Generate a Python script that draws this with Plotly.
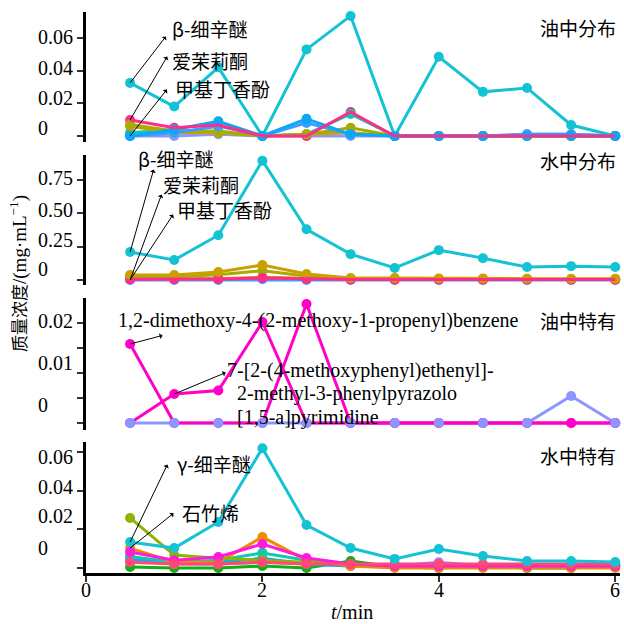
import plotly.graph_objects as go

# ---------------- data ----------------
t = [0.5, 1.0, 1.5, 2.0, 2.5, 3.0, 3.5, 4.0, 4.5, 5.0, 5.5, 6.0]

# panel 1: 油中分布
p1_periwinkle = [0, 0, 0.001, 0, 0, 0, 0, 0, 0, 0.001, 0.001, 0]
p1_teal = [0.002, 0.004, 0.002, 0, 0.001, 0.0135, 0, 0, 0, 0, 0, 0]
p1_gold = [0.006, 0.002, 0.002, 0, 0.001, 0.002, 0, 0, 0, 0, 0, 0]
p1_olive = [0.007, 0.003, 0.003, 0, 0.001, 0.005, 0, 0, 0, 0, 0, 0]
p1_cyan = [0.0325, 0.018, 0.042, 0, 0.053, 0.0735, 0, 0.0485, 0.027, 0.0294, 0.0067, 0]
p1_blue2 = [0, 0.002, 0.006, 0, 0.008, 0.001, 0, 0, 0, 0.001, 0.001, 0]
p1_blue = [0, 0.004, 0.009, 0, 0.0105, 0.001, 0, 0, 0, 0, 0, 0]
p1_pink = [0.0098, 0.005, 0.0067, 0, 0, 0.0147, 0, 0, 0, 0, 0, 0]

# panel 2: 水中分布
p2_blue = [0, 0, 0, 0.005, 0, 0, 0, 0, 0, 0, 0, 0]
p2_orange = [0.01, 0.008, 0.01, 0.02, 0.01, 0.005, 0.004, 0.004, 0.004, 0.004, 0.004, 0.004]
p2_olive = [0.028, 0.025, 0.04, 0.07, 0.03, 0.01, 0.008, 0.006, 0.005, 0.005, 0.005, 0.005]
p2_cyan = [0.21, 0.15, 0.336, 0.895, 0.38, 0.194, 0.09, 0.224, 0.164, 0.097, 0.104, 0.097]
p2_pink = [0.005, 0.005, 0.008, 0.015, 0.008, 0.004, 0.003, 0.003, 0.003, 0.003, 0.003, 0.003]
p2_gold = [0.037, 0.037, 0.06, 0.112, 0.045, 0.015, 0.015, 0.012, 0.012, 0.01, 0.01, 0.01]

# panel 3: 油中特有
p3_periwinkle = [0, 0, 0, 0, 0, 0, 0, 0, 0, 0, 0.0054, 0]
p3_dimethoxy = [0.0158, 0, 0, 0, 0.0238, 0, 0, 0, 0, 0, 0, 0]
p3_pyrazolo = [0, 0.0058, 0.0065, 0.0202, 0, 0, 0, 0, 0, 0, 0, 0]

# panel 4: 水中特有
p4_green = [0.0005, 0, 0, 0.001, 0, 0.0036, 0.0005, 0, 0.001, 0, 0, 0.001]
p4_purple = [0.005, 0.002, 0.002, 0.003, 0.002, 0.001, 0.001, 0.003, 0.001, 0.001, 0.001, 0.002]
p4_blue = [0.004, 0.004, 0.003, 0.005, 0.002, 0.001, 0.001, 0.001, 0.001, 0.001, 0.001, 0.001]
p4_teal = [0.006, 0.003, 0.004, 0.0078, 0.004, 0.002, 0.001, 0.001, 0.001, 0.001, 0.001, 0.001]
p4_orange = [0.0103, 0.003, 0.003, 0.016, 0.004, 0.001, 0, 0, 0, 0, 0, 0]
p4_olive = [0.0259, 0.0067, 0.005, 0.004, 0.003, 0.002, 0.001, 0.001, 0.001, 0.001, 0.001, 0.001]
p4_magenta = [0.0083, 0.004, 0.0057, 0.0124, 0.0052, 0.002, 0.001, 0.001, 0.001, 0.001, 0.001, 0.001]
p4_pink = [0.003, 0.002, 0.002, 0.003, 0.002, 0.002, 0.002, 0.002, 0.002, 0.002, 0.002, 0.002]
p4_cyan = [0.0134, 0.0103, 0.0238, 0.062, 0.0222, 0.0103, 0.0047, 0.0098, 0.0062, 0.0036, 0.0036, 0.0031]

x_ticks = [0, 2, 4, 6]
x_tick_labels = ["0", "2", "4", "6"]
y_ticks = {
    1: [0, 0.02, 0.04, 0.06],
    2: [0, 0.25, 0.5, 0.75],
    3: [0, 0.005, 0.01, 0.015, 0.02],
    4: [0, 0.02, 0.04, 0.06],
}
# (label, tick value, vertical pixel offset of the label)
y_labels = {
    1: [("0.06", 0.06, 1), ("0.04", 0.04, 3), ("0.02", 0.02, 5), ("0", 0, 8)],
    2: [("0.75", 0.75, 2), ("0.50", 0.5, 3), ("0.25", 0.25, 7), ("0", 0, 11)],
    3: [("0.02", 0.02, 2), ("0.01", 0.01, 10), ("0", 0, 18)],
    4: [("0.06", 0.06, -5), ("0.04", 0.04, 4), ("0.02", 0.02, 13), ("0", 0, 20)],
}
panel_titles = ["油中分布", "水中分布", "油中特有", "水中特有"]

C = dict(cyan="#14c3d3", blue="#0aa8f5", pink="#ff2d8a", olive="#a6ad00",
         gold="#c9a000", teal="#10c8b0", peri="#8c96ff", orange="#f08a00",
         magenta="#ff00c8", green="#10b010", purple="#b47cff", mag2="#ff1adc",
         pink2="#ff4878", olive2="#8cb400")

SERIF = "Liberation Serif"
CJK = "Noto Sans CJK SC"

fig = go.Figure()


def add(y, color, axis, mode="lines+markers", width=3, size=10):
    fig.add_trace(go.Scatter(
        x=t, y=y, mode=mode, yaxis=axis, xaxis="x",
        line=dict(color=color, width=width),
        marker=dict(color=color, size=size),
        cliponaxis=False, showlegend=False, hoverinfo="skip"))


# panel 1
add(p1_periwinkle, C["peri"], "y")
add(p1_pink, C["pink"], "y", mode="markers")
add(p1_teal, C["teal"], "y")
add(p1_gold, C["gold"], "y")
add(p1_olive, C["olive"], "y")
add(p1_cyan, C["cyan"], "y")
add(p1_blue2, "#3c9cff", "y")
add(p1_blue, C["blue"], "y")
add(p1_pink, C["pink"], "y", mode="lines")
# panel 2
add(p2_blue, "#3c9cff", "y2")
add(p2_orange, C["orange"], "y2")
add(p2_olive, C["olive"], "y2")
add(p2_cyan, C["cyan"], "y2")
add(p2_pink, C["pink"], "y2", mode="markers")
add(p2_gold, C["gold"], "y2")
add(p2_pink, C["pink"], "y2", mode="lines")
# panel 3
add(p3_periwinkle, C["peri"], "y3", mode="lines")
add(p3_dimethoxy, C["magenta"], "y3")
add(p3_pyrazolo, C["magenta"], "y3")
add(p3_periwinkle, C["peri"], "y3", mode="markers")
# panel 4
add(p4_green, C["green"], "y4")
add(p4_purple, C["purple"], "y4")
add(p4_blue, C["blue"], "y4")
add(p4_teal, C["teal"], "y4")
add(p4_orange, C["orange"], "y4")
add(p4_olive, C["olive2"], "y4")
add(p4_magenta, C["mag2"], "y4")
add(p4_pink, C["pink2"], "y4")
add(p4_cyan, C["cyan"], "y4")

# ---------------- layout ----------------
W = H = 624
L, R, T, B = 86, 4, 12, 51
PW = W - L - R
PH = H - T - B


def px_x(px):
    return (px - L) / PW


def px_y(py):
    return (H - B - py) / PH


domains = {1: (12, 142), 2: (155, 285), 3: (298, 430), 4: (442, 573)}
ranges = {1: [-0.0037, 0.0759], 2: [-0.0375, 0.9375], 3: [-0.0014, 0.025], 4: [-0.0026, 0.0652]}

layout = dict(
    width=W, height=H, margin=dict(l=L, r=R, t=T, b=B),
    plot_bgcolor="white", paper_bgcolor="white",
    font=dict(family=SERIF, size=20, color="black"),
    xaxis=dict(domain=[0, 1], range=[0, 6.054], anchor="y4", showline=True,
               linecolor="black", linewidth=3, ticks="outside", ticklen=6,
               tickwidth=2, tickcolor="#333", tickvals=x_ticks, showticklabels=False,
               showgrid=False, zeroline=False),
)
for i in range(1, 5):
    top, bot = domains[i]
    key = "yaxis" if i == 1 else f"yaxis{i}"
    layout[key] = dict(domain=[px_y(bot), px_y(top)], range=ranges[i], anchor="x",
                       showline=True, linecolor="black", linewidth=3,
                       ticks="outside", ticklen=6, tickwidth=2, tickcolor="#333",
                       tickvals=y_ticks[i], showticklabels=False,
                       showgrid=False, zeroline=False)
fig.update_layout(**layout)

ann = []
# y tick labels (offset as in the reference)
for i in range(1, 5):
    yref = "y" if i == 1 else f"y{i}"
    for txt, v, sh in y_labels[i]:
        ann.append(dict(text=txt, xref="paper", x=px_x(36), xanchor="left",
                        yref=yref, y=v, yanchor="middle", yshift=sh,
                        showarrow=False, font=dict(family=SERIF, size=20)))
# x tick labels
for v, txt in zip(x_ticks, x_tick_labels):
    ann.append(dict(text=txt, xref="x", x=v, xanchor="center", yref="paper",
                    y=px_y(590), yanchor="middle", showarrow=False,
                    font=dict(family=SERIF, size=20)))

# panel titles
for i, (title, py) in enumerate(zip(panel_titles, [27, 160, 320, 455]), start=1):
    ann.append(dict(text=title, xref="paper", yref="paper", x=px_x(618), y=px_y(py),
                    xanchor="right", yanchor="middle", showarrow=False,
                    font=dict(family=CJK, size=19)))


def label(text, px, py, fam=CJK, size=19):
    ann.append(dict(text=text, xref="paper", yref="paper", x=px_x(px), y=px_y(py),
                    xanchor="left", yanchor="middle", showarrow=False,
                    font=dict(family=fam, size=size)))


def arrow(yref, xv, yv, ax, ay):
    ann.append(dict(text="", xref="x", yref=yref, x=xv, y=yv, ax=ax, ay=ay,
                    axref="pixel", ayref="pixel", showarrow=True, arrowside="start",
                    arrowhead=4, arrowsize=1.6, arrowwidth=1, arrowcolor="black",
                    standoff=0, startstandoff=0))


# panel 1 labels
label("β-细辛醚", 170, 28)
label("爱茉莉酮", 170, 60)
label("甲基丁香酚", 173, 89)
arrow("y", t[0], p1_cyan[0], 37, -48)
arrow("y", t[0], p1_pink[0], 38, -65)
arrow("y", t[0], p1_blue[0], 38, -48)
# panel 2
label("β-细辛醚", 136, 158)
label("爱茉莉酮", 161, 184)
label("甲基丁香酚", 175, 210)
arrow("y2", t[0], p2_cyan[0], 24, -84)
arrow("y2", t[0], p2_blue[0], 32, -87)
arrow("y2", t[0], p2_blue[0], 44, -67)
# panel 3
label("1,2-dimethoxy-4-(2-methoxy-1-propenyl)benzene", 116, 320, SERIF, 20)
label("7-[2-(4-methoxyphenyl)ethenyl]-", 225, 370, SERIF, 20)
label("2-methyl-3-phenylpyrazolo", 235, 393, SERIF, 20)
label("[1,5-a]pyrimidine", 235, 417, SERIF, 20)
arrow("y3", t[0], p3_dimethoxy[0], 34, -9)
arrow("y3", t[1], p3_pyrazolo[1], 53, -22)
# panel 4
label("γ-细辛醚", 175, 463)
label("石竹烯", 180, 512)
arrow("y4", t[0], p4_cyan[0], 38, -79)
arrow("y4", t[0], p4_orange[0], 45, -36)

# axis titles
ann.append(dict(text=f'<span style="font-family:{CJK};font-size:17px">质量浓度</span>/(mg·mL<sup>−1</sup>)',
                xref="paper", yref="paper", x=px_x(18), y=px_y(274),
                xanchor="center", yanchor="middle", textangle=-90, showarrow=False,
                font=dict(family=SERIF, size=19)))
ann.append(dict(text="<i>t</i>/min", xref="paper", yref="paper", x=px_x(352), y=px_y(612),
                xanchor="center", yanchor="middle", showarrow=False,
                font=dict(family=SERIF, size=20)))

fig.update_layout(annotations=ann)
fig.write_html(
    "out.html",
    config={"displayModeBar": False, "staticPlot": True},
    post_script="document.body.style.margin='0';document.body.style.overflow='hidden';",
)
